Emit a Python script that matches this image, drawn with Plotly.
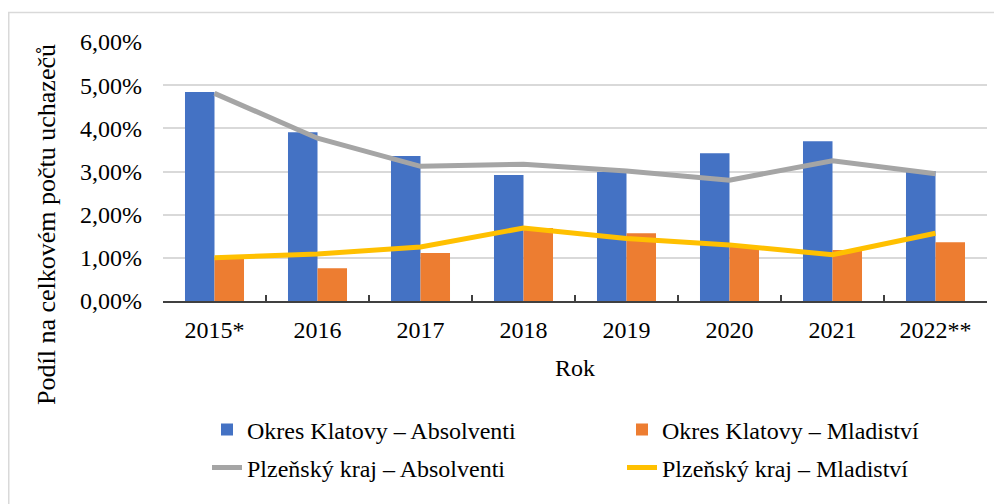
import plotly.graph_objects as go

years = ["2015*", "2016", "2017", "2018", "2019", "2020", "2021", "2022**"]
klatovy_absolventi = [4.84, 3.91, 3.36, 2.92, 2.99, 3.42, 3.70, 3.01]
klatovy_mladistvi = [1.00, 0.76, 1.11, 1.69, 1.57, 1.25, 1.18, 1.36]
plzen_absolventi = [4.81, 3.77, 3.12, 3.17, 3.01, 2.80, 3.25, 2.95]
plzen_mladistvi = [1.00, 1.09, 1.25, 1.69, 1.45, 1.30, 1.07, 1.57]
y_ticks = [0, 1, 2, 3, 4, 5, 6]
y_tick_labels = ["0,00%", "1,00%", "2,00%", "3,00%", "4,00%", "5,00%", "6,00%"]

FONT = "Liberation Serif, Times New Roman, serif"
FS = 24
PAGE_OFFSET = 8  # default body margin of the html page
W, H = 1002 - PAGE_OFFSET, 504 - PAGE_OFFSET
# plot area in screen pixels: x 163..987, y 42..301
PL, PR, PT, PB = 163, 987, 42, 301
L = PL - PAGE_OFFSET
T = PT - PAGE_OFFSET
R = W - (PR - PAGE_OFFSET)
B = H - (PB - PAGE_OFFSET)
PW, PH = PR - PL, PB - PT

def px_x(x):
    return (x - PL) / PW

def px_y(y):
    return (PB - y) / PH

fig = go.Figure()
fig.add_trace(go.Bar(x=years, y=klatovy_absolventi, name="Okres Klatovy – Absolventi",
                     marker=dict(color="#4472C4", line=dict(width=0)), legend="legend"))
fig.add_trace(go.Bar(x=years, y=klatovy_mladistvi, name="Okres Klatovy – Mladiství",
                     marker=dict(color="#ED7D31", line=dict(width=0)), legend="legend2"))
fig.add_trace(go.Scatter(x=years, y=plzen_absolventi, name="Plzeňský kraj – Absolventi", mode="lines",
                         line=dict(color="#A5A5A5", width=5), legend="legend3"))
fig.add_trace(go.Scatter(x=years, y=plzen_mladistvi, name="Plzeňský kraj – Mladiství", mode="lines",
                         line=dict(color="#FFC000", width=5), legend="legend4"))

legend_common = dict(orientation="h", xanchor="left", yanchor="middle",
                     font=dict(family=FONT, size=FS, color="#000000"),
                     bgcolor="rgba(0,0,0,0)")

fig.update_layout(
    width=W, height=H,
    margin=dict(l=L, r=R, t=T, b=B, autoexpand=False),
    paper_bgcolor="white", plot_bgcolor="white",
    barmode="group", bargap=0.427, bargroupgap=0,
    font=dict(family=FONT, size=FS, color="#000000"),
    legend=dict(x=px_x(207), y=px_y(430), **legend_common),
    legend2=dict(x=px_x(622), y=px_y(430), **legend_common),
    legend3=dict(x=px_x(207), y=px_y(468), **legend_common),
    legend4=dict(x=px_x(622), y=px_y(468), **legend_common),
    xaxis=dict(
        showgrid=False, showline=True, linecolor="#404040", linewidth=1.5,
        ticks="inside", tickson="boundaries", ticklen=6, tickcolor="#404040", tickwidth=1.5,
        tickfont=dict(family=FONT, size=FS, color="#000000"), ticklabelstandoff=6,
    ),
    yaxis=dict(
        range=[0, 6], tickmode="array", tickvals=y_ticks, ticktext=y_tick_labels,
        showgrid=True, gridcolor="#D9D9D9", gridwidth=1.5, zeroline=False,
        showline=False, ticks="", tickfont=dict(family=FONT, size=FS, color="#000000"),
        ticklabelstandoff=20,
    ),
    showlegend=True,
)

fig.add_annotation(text="Podíl na celkovém počtu uchazečů", textangle=-90,
                   xref="paper", yref="paper", x=px_x(47), y=px_y(225),
                   xanchor="center", yanchor="middle", showarrow=False,
                   font=dict(family=FONT, size=26, color="#000000"))
fig.add_annotation(text="Rok", xref="paper", yref="paper", x=px_x(575), y=px_y(368),
                   xanchor="center", yanchor="middle", showarrow=False,
                   font=dict(family=FONT, size=FS, color="#000000"))

fig.add_shape(type="rect", xref="paper", yref="paper",
              x0=px_x(8.75), x1=px_x(1020), y0=px_y(530), y1=px_y(12.5),
              line=dict(color="#D9D9D9", width=1.5), fillcolor="rgba(0,0,0,0)", layer="below")

fig.write_html("out.html")
